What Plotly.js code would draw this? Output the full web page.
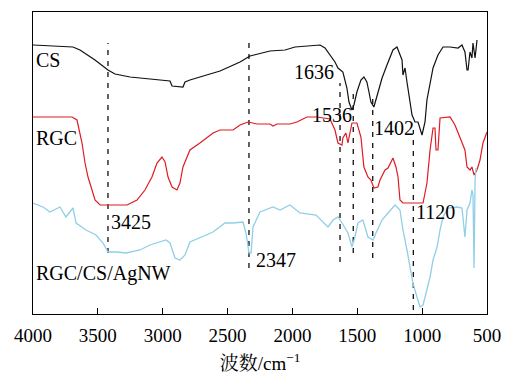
<!DOCTYPE html>
<html>
<head>
<meta charset="utf-8">
<script src="https://cdn.plot.ly/plotly-3.0.1.min.js"></script>
<style>html,body{margin:0;padding:0;background:#fff;}#chart{width:511px;height:374px;}</style>
</head>
<body>
<div id="chart"></div>
<script>
// Wavenumbers (cm-1) and offset transmittance (arbitrary units)
const csWn = [4000,3869,3692,3638,3522,3422,3368,3252,3098,2982,2944,2928,2844,2828,2790,2713,2558,2404,2327,2173,2057,1980,1826,1787,1749,1672,1649,1611,1580,1564,1541,1526,1503,1472,1449,1426,1410,1395,1372,1341,1309,1271,1248,1225,1194,1178,1155,1148,1132,1117,1094,1078,1055,1032,1001,978,963,939,916,878,839,785,723,693,670,654,646,631,616,608,592,577];
const csT  = [269,268,267,264,254,244,240,237,235,234,233,228,227,232,234,237,243,252,258,263,264,267,268,269,266,252,246,242,226,212,204,209,222,234,237,232,222,212,207,222,236,249,256,264,267,262,254,239,246,232,212,199,192,192,179,192,214,229,246,259,267,267,266,269,262,244,244,262,256,271,256,274];

const rgcWn = [4000,3699,3661,3638,3622,3599,3576,3545,3522,3483,3275,3198,3137,3083,3044,3006,2982,2959,2928,2890,2867,2844,2813,2790,2713,2612,2558,2458,2404,2342,2273,2173,2150,2119,2019,1965,1888,1811,1710,1672,1649,1618,1611,1588,1572,1541,1503,1472,1449,1418,1395,1372,1341,1325,1286,1263,1225,1202,1186,1171,1148,993,963,939,916,901,893,878,862,785,747,708,670,654,631,616,600,577,554,531,500];
const rgcT  = [197,197,194,181,171,151,137,124,114,109,109,114,124,137,151,157,152,137,127,124,131,147,157,164,171,181,184,184,189,192,190,190,188,190,190,192,197,197,195,184,171,169,176,181,171,191,191,177,147,137,134,126,127,134,144,146,156,147,137,114,111,111,131,164,186,186,164,164,196,197,189,177,164,147,144,147,139,144,154,171,182];

const agWn = [4000,3923,3869,3792,3746,3692,3668,3591,3514,3460,3422,3360,3283,3175,3098,2975,2944,2905,2867,2828,2790,2713,2612,2520,2458,2381,2358,2335,2319,2304,2250,2150,2096,2019,1942,1818,1726,1687,1649,1618,1572,1541,1518,1495,1457,1418,1379,1356,1309,1263,1209,1171,1148,1117,1094,1071,1040,1017,993,963,939,916,885,862,839,801,731,693,670,654,631,616,608,600,592,585,577];
const agT  = [111,107,102,107,97,106,91,84,79,71,62,62,61,64,69,74,71,56,54,59,72,76,82,91,91,92,81,61,61,87,102,107,104,109,101,99,87,94,97,91,81,67,77,91,94,77,74,81,94,101,109,104,84,64,47,31,17,7,9,24,37,54,67,84,97,106,107,106,77,104,111,124,119,46,134,146,144];

// Marked bands: labels, drawn line positions and vertical extents
const bandLabels = ["3425","2347","1636","1536","1402","1120"];
const bandLineWn = [3422,2335,1633,1531,1381,1068];
const bandTop    = [271,277,231,226,219,184];
const bandBottom = [61,46,52,61,56,4];

const seriesNames = ["CS","RGC","RGC/CS/AgNW"];
const xTicks = [4000,3500,3000,2500,2000,1500,1000,500];

const serif = "Liberation Serif, Times New Roman, Noto Serif CJK SC, Noto Sans CJK SC, serif";

const traces = [];
bandLineWn.forEach((w,i)=>{
  traces.push({x:[w,w], y:[bandBottom[i],bandTop[i]], mode:'lines', hoverinfo:'skip',
    line:{color:'#111', width:1.3, dash:'5px,6px'}});
});
traces.push({x:csWn, y:csT, name:seriesNames[0], mode:'lines', line:{color:'#111', width:1.2}});
traces.push({x:rgcWn, y:rgcT, name:seriesNames[1], mode:'lines', line:{color:'#e01a22', width:1.2}});
traces.push({x:agWn, y:agT, name:seriesNames[2], mode:'lines', line:{color:'#8fcfe8', width:1.3}});

const fnt = {family:serif, size:20, color:'#000'};
const annotations = [
  {x:3985, y:254, text:seriesNames[0], xanchor:'left'},
  {x:3985, y:176, text:seriesNames[1], xanchor:'left'},
  {x:3985, y:41,  text:seriesNames[2], xanchor:'left'},
  {x:3406, y:92,  text:bandLabels[0], xanchor:'left'},
  {x:2289, y:54,  text:bandLabels[1], xanchor:'left'},
  {x:1672, y:242, text:bandLabels[2], xanchor:'right'},
  {x:1533, y:199, text:bandLabels[3], xanchor:'right'},
  {x:1379, y:186, text:bandLabels[4], xanchor:'left'},
  {x:1055, y:102, text:bandLabels[5], xanchor:'left'}
].map(a=>Object.assign({xref:'x', yref:'y', yanchor:'middle', showarrow:false, font:fnt, borderpad:0}, a));

const layout = {
  width:511, height:374,
  margin:{l:33, r:24, t:12, b:60},
  paper_bgcolor:'#fff', plot_bgcolor:'#fff',
  showlegend:false,
  xaxis:{range:[4000,500], tickvals:xTicks, ticktext:xTicks.map(String),
    ticks:'inside', ticklen:6, tickwidth:1.2, tickcolor:'#000', ticklabelstandoff:4,
    showline:true, mirror:true, linecolor:'#000', linewidth:1.3,
    showgrid:false, zeroline:false,
    tickfont:{family:serif, size:19, color:'#000'},
    title:{text:'波数/cm<sup>−1</sup>', font:{family:serif, size:19, color:'#000'}, standoff:16}},
  yaxis:{range:[0,302], showticklabels:false, ticks:'', showline:true, mirror:true,
    linecolor:'#000', linewidth:1.3, showgrid:false, zeroline:false},
  annotations:annotations
};

Plotly.newPlot('chart', traces, layout, {displayModeBar:false, staticPlot:true});
</script>
</body>
</html>
